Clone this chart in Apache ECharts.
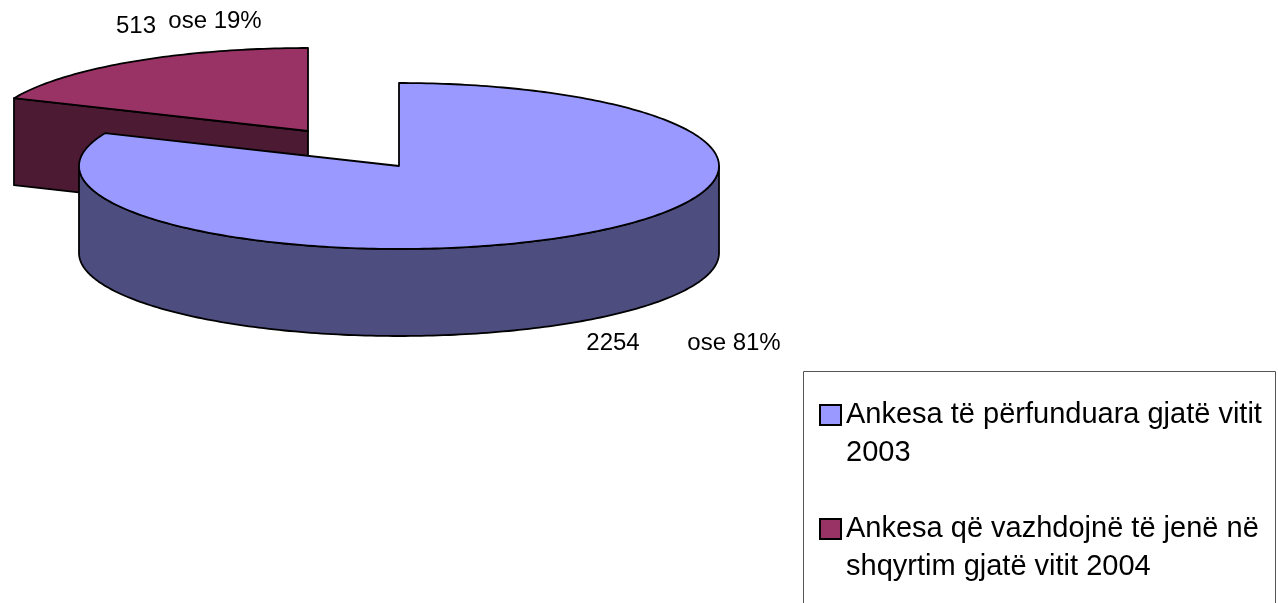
<!DOCTYPE html>
<html>
<head>
<meta charset="utf-8">
<style>
  html, body { margin: 0; padding: 0; background: #fff; }
  #myChart { width: 1278px; height: 603px; }
</style>
<script src="https://cdn.jsdelivr.net/npm/echarts@6/dist/echarts.min.js"></script>
</head>
<body>
<div id="myChart"></div>
<script>
// data
const categories = ['Ankesa të përfunduara gjatë vitit\n2003', 'Ankesa që vazhdojnë të jenë në\nshqyrtim gjatë vitit 2004'];
const values = [2254, 513];
const percentLabels = ['ose 81%', 'ose 19%'];
const topColors = ['#9999ff', '#993366'];
const sideColors = ['#4d4d80', '#4d1a33'];

// projected pie: ellipse radii, depth, and centre of each (exploded) slice
const rx = 320, ry = 83, depth = 87;
const centers = [[399, 166], [308, 131]];
const valuePos = [[613, 343], [136, 26]];
const percentPos = [[734, 343], [215, 21]];

const total = values.reduce((a, b) => a + b, 0);
const startAngles = [0, values[0] / total * 360];
const endAngles = [values[0] / total * 360, 360];

function rim(cx, cy, from, to) {
    const pts = [];
    const steps = Math.max(2, Math.ceil(to - from));
    for (let i = 0; i <= steps; i++) {
        const a = (from + (to - from) * i / steps) * Math.PI / 180;
        pts.push([cx + rx * Math.sin(a), cy - ry * Math.cos(a)]);
    }
    return pts;
}

function poly(points, fill) {
    return {
        type: 'polygon',
        shape: {points: points},
        style: {fill: fill, stroke: '#000', lineWidth: 1.8, lineJoin: 'round'}
    };
}

function label(text, pos) {
    return {
        type: 'text',
        style: {
            text: text, x: pos[0], y: pos[1], fill: '#000',
            font: '24px "Liberation Sans"', align: 'center', verticalAlign: 'middle'
        }
    };
}

function sliceRenderer(i) {
    return function () {
        const [cx, cy] = centers[i];
        const from = startAngles[i], to = endAngles[i];
        const children = [];

        // outer wall, only the part facing the viewer
        const wallFrom = Math.max(from, 90), wallTo = Math.min(to, 270);
        if (wallTo > wallFrom) {
            const upper = rim(cx, cy, wallFrom, wallTo);
            const lower = upper.map(p => [p[0], p[1] + depth]).reverse();
            children.push(poly(upper.concat(lower), sideColors[i]));
        }
        // cut face at the start of the slice, when it faces the viewer
        if (from > 180) {
            const p = rim(cx, cy, from, from + 1)[0];
            children.push(poly([[cx, cy], p, [p[0], p[1] + depth], [cx, cy + depth]], sideColors[i]));
        }
        children.push(poly([[cx, cy]].concat(rim(cx, cy, from, to)), topColors[i]));
        children.push(label(String(values[i]), valuePos[i]));
        children.push(label(percentLabels[i], percentPos[i]));
        return {type: 'group', children: children};
    };
}

// red slice first, the blue one sits in front of it
const series = [1, 0].map(i => ({
    type: 'custom',
    name: categories[i],
    coordinateSystem: 'none',
    z: 2 + (1 - i),
    silent: true,
    itemStyle: {color: topColors[i], borderColor: '#000', borderWidth: 1.5},
    renderItem: sliceRenderer(i),
    data: [values[i]]
}));

let myChart = echarts.init(document.getElementById('myChart'), null, {renderer: 'canvas'});
myChart.setOption({
    animation: false,
    // legend frame, runs off the bottom of the picture
    graphic: [{
        type: 'rect',
        silent: true,
        z: 0,
        shape: {x: 803.5, y: 371.5, width: 472, height: 300},
        style: {fill: 'none', stroke: '#555', lineWidth: 1}
    }],
    legend: {
        left: 803,
        top: 358,
        height: 300,
        orient: 'vertical',
        align: 'left',
        data: categories.map(name => ({name: name, icon: 'rect'})),
        itemWidth: 21,
        itemHeight: 20,
        itemGap: 0,
        padding: [0, 0, 0, 16],
        selectedMode: false,
        // blank first line puts the marker level with the first text line
        formatter: name => '\n' + name,
        textStyle: {
            color: '#000',
            fontFamily: 'Liberation Sans',
            fontSize: 29,
            lineHeight: 38
        }
    },
    series: series
});
</script>
</body>
</html>
